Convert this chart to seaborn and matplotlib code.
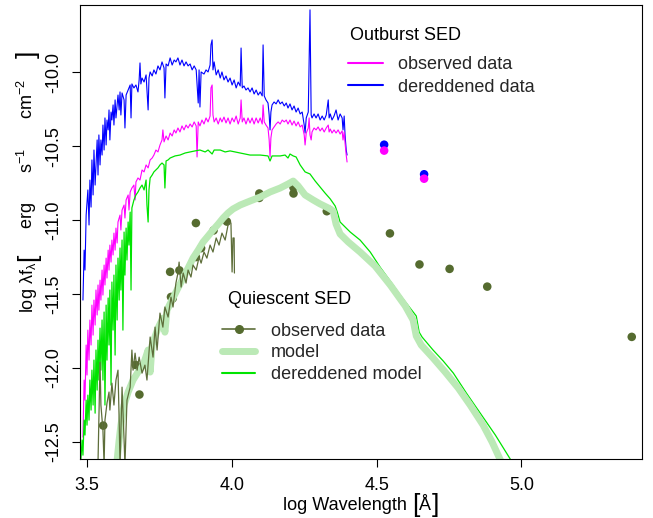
import matplotlib
matplotlib.use("Agg")
import matplotlib.pyplot as plt
from matplotlib.lines import Line2D
import numpy as np
import pandas as pd
import seaborn as sns

# ---------------- data (log wavelength [A], log lambda f_lambda) ----------------
# Outburst: dereddened spectrum
blue_x = [3.486,3.490,3.493,3.497,3.503,3.507,3.510,3.514,3.517,3.521,
          3.524,3.528,3.531,3.535,3.538,3.541,3.545,3.548,3.552,3.555,
          3.559,3.562,3.566,3.569,3.573,3.576,3.579,3.583,3.586,3.590,
          3.593,3.597,3.600,3.607,3.611,3.614,3.617,3.621,3.628,3.631,
          3.635,3.642,3.649,3.652,3.655,3.662,3.669,3.676,3.680,3.683,
          3.686,3.690,3.697,3.704,3.711,3.714,3.718,3.725,3.731,3.738,
          3.745,3.752,3.759,3.766,3.769,3.773,3.780,3.787,3.794,3.801,
          3.807,3.814,3.821,3.828,3.835,3.842,3.849,3.856,3.863,3.870,
          3.877,3.884,3.887,3.890,3.894,3.904,3.911,3.918,3.925,3.928,
          3.932,3.935,3.939,3.946,3.953,3.960,3.966,3.973,3.980,3.987,
          3.994,4.001,4.008,4.015,4.022,4.029,4.032,4.036,4.042,4.049,
          4.056,4.063,4.070,4.077,4.084,4.091,4.098,4.105,4.108,4.112,
          4.118,4.125,4.129,4.132,4.135,4.139,4.146,4.153,4.160,4.167,
          4.174,4.181,4.188,4.194,4.201,4.208,4.215,4.222,4.229,4.236,
          4.243,4.250,4.253,4.257,4.264,4.267,4.270,4.274,4.277,4.284,
          4.291,4.298,4.305,4.312,4.319,4.326,4.333,4.336,4.340,4.346,
          4.353,4.360,4.367,4.374,4.381,4.384,4.388,4.391,4.395,4.398]
blue_y = [-11.541,-11.203,-11.338,-10.966,-10.796,-11.033,-10.729,-10.912,-10.593,-10.830,
          -10.526,-10.763,-10.627,-10.458,-10.695,-10.424,-10.627,-10.458,-10.560,-10.357,
          -10.526,-10.309,-10.492,-10.323,-10.390,-10.255,-10.458,-10.269,-10.323,-10.221,
          -10.357,-10.187,-10.309,-10.154,-10.255,-10.133,-10.289,-10.140,-10.187,-10.377,
          -10.154,-10.120,-10.086,-10.309,-10.079,-10.106,-10.086,-10.133,-10.052,-9.937,
          -10.079,-10.039,-10.066,-10.018,-10.255,-10.039,-9.998,-10.025,-9.984,-10.012,
          -9.957,-9.984,-9.930,-9.971,-10.174,-9.944,-9.957,-9.903,-9.951,-9.917,
          -9.930,-9.903,-9.951,-9.917,-9.957,-9.930,-9.957,-9.944,-9.984,-9.957,
          -9.984,-10.208,-9.984,-10.235,-9.998,-10.012,-9.984,-9.998,-9.951,-9.815,
          -9.781,-9.984,-9.930,-10.018,-9.984,-10.039,-9.998,-10.052,-10.025,-10.066,
          -10.039,-10.086,-10.052,-10.106,-10.066,-10.093,-9.836,-10.106,-10.093,-10.120,
          -10.106,-10.133,-10.106,-10.147,-10.120,-10.154,-10.133,-10.160,-9.815,-10.160,
          -10.187,-10.208,-10.289,-10.390,-10.269,-10.221,-10.201,-10.214,-10.187,-10.214,
          -10.201,-10.228,-10.208,-10.242,-10.214,-10.255,-10.228,-10.269,-10.242,-10.282,
          -10.269,-10.357,-10.411,-10.309,-10.269,-9.917,-9.578,-10.289,-10.309,-10.282,
          -10.309,-10.282,-10.323,-10.296,-10.323,-10.289,-10.187,-10.309,-10.282,-10.323,
          -10.296,-10.255,-10.323,-10.282,-10.309,-10.390,-10.296,-10.424,-10.526,-10.560]

# Outburst: observed spectrum
mag_x = [3.486,3.490,3.493,3.497,3.500,3.503,3.507,3.510,3.514,3.517,
         3.521,3.524,3.528,3.531,3.535,3.538,3.541,3.545,3.548,3.552,
         3.555,3.559,3.562,3.566,3.569,3.573,3.576,3.579,3.583,3.586,
         3.590,3.593,3.597,3.600,3.604,3.607,3.614,3.617,3.621,3.628,
         3.631,3.635,3.642,3.645,3.649,3.655,3.662,3.666,3.669,3.676,
         3.683,3.690,3.697,3.704,3.711,3.718,3.725,3.731,3.738,3.745,
         3.752,3.759,3.762,3.766,3.773,3.780,3.787,3.794,3.801,3.807,
         3.814,3.821,3.828,3.835,3.842,3.849,3.856,3.863,3.870,3.877,
         3.880,3.884,3.890,3.897,3.904,3.911,3.918,3.925,3.928,3.932,
         3.935,3.939,3.946,3.953,3.960,3.966,3.973,3.980,3.987,3.994,
         4.001,4.008,4.015,4.022,4.029,4.032,4.036,4.042,4.049,4.056,
         4.063,4.070,4.077,4.084,4.091,4.098,4.105,4.108,4.112,4.118,
         4.125,4.129,4.132,4.135,4.139,4.146,4.153,4.160,4.167,4.174,
         4.181,4.188,4.194,4.201,4.208,4.215,4.222,4.229,4.236,4.243,
         4.250,4.253,4.257,4.264,4.267,4.270,4.274,4.277,4.284,4.291,
         4.298,4.305,4.312,4.319,4.326,4.333,4.336,4.340,4.346,4.353,
         4.360,4.367,4.374,4.381,4.384,4.388,4.391,4.395,4.398]
mag_y = [-12.468,-12.082,-12.218,-11.845,-12.048,-11.744,-11.947,-11.676,-11.845,-11.575,
         -11.778,-11.541,-11.710,-11.473,-11.642,-11.439,-11.609,-11.406,-11.541,-11.338,
         -11.507,-11.304,-11.439,-11.257,-11.392,-11.203,-11.338,-11.169,-11.284,-11.135,
         -11.236,-11.088,-11.203,-11.054,-11.155,-11.013,-10.966,-11.067,-10.932,-10.898,
         -10.986,-10.864,-10.830,-10.932,-10.810,-10.783,-10.763,-10.864,-10.742,-10.715,
         -10.729,-10.661,-10.674,-10.627,-10.647,-10.593,-10.580,-10.560,-10.526,-10.539,
         -10.492,-10.458,-10.390,-10.471,-10.431,-10.458,-10.411,-10.431,-10.390,-10.411,
         -10.377,-10.404,-10.363,-10.390,-10.357,-10.377,-10.350,-10.370,-10.336,-10.363,
         -10.573,-10.336,-10.363,-10.323,-10.350,-10.309,-10.336,-10.296,-10.106,-10.086,
         -10.289,-10.336,-10.309,-10.350,-10.309,-10.336,-10.303,-10.343,-10.309,-10.350,
         -10.309,-10.336,-10.296,-10.350,-10.309,-10.187,-10.336,-10.309,-10.350,-10.309,
         -10.343,-10.309,-10.350,-10.309,-10.343,-10.309,-10.350,-10.221,-10.336,-10.357,
         -10.377,-10.458,-10.573,-10.444,-10.390,-10.370,-10.350,-10.336,-10.350,-10.323,
         -10.336,-10.323,-10.350,-10.323,-10.357,-10.330,-10.363,-10.336,-10.370,-10.357,
         -10.424,-10.492,-10.411,-10.377,-10.309,-10.424,-10.458,-10.404,-10.377,-10.390,
         -10.370,-10.397,-10.377,-10.404,-10.377,-10.357,-10.404,-10.384,-10.411,-10.390,
         -10.411,-10.390,-10.418,-10.397,-10.458,-10.404,-10.478,-10.560,-10.607]

# Outburst photometry
ob_phot_x = [4.526, 4.664]
ob_phot_obs_y = [-10.53, -10.72]
ob_phot_der_y = [-10.49, -10.69]

# Quiescent: dereddened model
dmod_x = [3.479,3.483,3.486,3.490,3.493,3.497,3.500,3.503,3.507,3.510,
          3.514,3.517,3.521,3.524,3.528,3.531,3.535,3.538,3.541,3.545,
          3.548,3.552,3.555,3.559,3.562,3.566,3.569,3.573,3.576,3.579,
          3.583,3.586,3.590,3.593,3.597,3.600,3.604,3.607,3.611,3.614,
          3.617,3.621,3.624,3.628,3.631,3.635,3.638,3.642,3.645,3.649,
          3.652,3.655,3.662,3.669,3.676,3.683,3.690,3.697,3.704,3.707,
          3.711,3.714,3.718,3.725,3.731,3.738,3.745,3.752,3.759,3.766,
          3.769,3.773,3.780,3.787,3.804,3.821,3.839,3.856,3.873,3.890,
          3.908,3.918,3.932,3.939,3.960,3.977,3.994,4.011,4.029,4.046,
          4.063,4.098,4.125,4.132,4.139,4.167,4.184,4.194,4.201,4.212,
          4.222,4.236,4.253,4.270,4.288,4.305,4.322,4.340,4.357,4.364,
          4.374,4.384,4.395,4.409,4.443,4.478,4.512,4.547,4.581,4.616,
          4.637,4.647,4.657,4.695,4.730,4.765,4.810,4.858,4.910,4.968]
dmod_y = [-12.617,-12.488,-12.590,-12.353,-12.454,-12.218,-12.387,-12.184,-12.353,-12.082,
          -12.285,-12.015,-12.251,-11.947,-12.306,-11.879,-12.150,-11.812,-12.082,-11.731,
          -12.015,-11.676,-12.082,-11.622,-12.251,-11.575,-11.947,-11.527,-11.845,-11.473,
          -12.116,-11.419,-11.744,-11.372,-11.913,-11.304,-11.676,-11.257,-11.541,-11.189,
          -11.473,-11.135,-11.744,-11.081,-11.372,-11.054,-11.270,-11.013,-11.169,-10.946,
          -11.473,-10.918,-10.864,-10.830,-10.810,-10.783,-10.763,-10.796,-10.729,-10.898,
          -11.013,-10.796,-10.715,-10.695,-10.674,-10.661,-10.647,-10.627,-10.614,-10.627,
          -10.783,-10.600,-10.593,-10.580,-10.566,-10.560,-10.546,-10.539,-10.532,-10.526,
          -10.539,-10.526,-10.553,-10.526,-10.526,-10.539,-10.532,-10.539,-10.546,-10.553,
          -10.560,-10.560,-10.566,-10.600,-10.566,-10.566,-10.560,-10.580,-10.553,-10.566,
          -10.573,-10.627,-10.674,-10.688,-10.736,-10.776,-10.817,-10.857,-10.905,-10.945,
          -11.013,-11.033,-11.054,-11.081,-11.135,-11.216,-11.318,-11.412,-11.507,-11.595,
          -11.649,-11.758,-11.791,-11.879,-11.953,-12.035,-12.170,-12.306,-12.454,-12.637]

# Quiescent: model
model_x = [3.604,3.611,3.617,3.628,3.642,3.659,3.676,3.694,3.711,3.718,
           3.725,3.745,3.762,3.769,3.776,3.797,3.814,3.832,3.849,3.866,
           3.884,3.901,3.918,3.935,3.953,3.970,3.987,4.004,4.029,4.063,
           4.098,4.132,4.167,4.194,4.212,4.229,4.253,4.281,4.305,4.333,
           4.350,4.360,4.374,4.402,4.443,4.495,4.547,4.599,4.626,4.637,
           4.654,4.695,4.737,4.782,4.823,4.868,4.899,4.934]
model_y = [-12.624,-12.488,-12.387,-12.251,-12.163,-12.082,-12.028,-11.981,-11.879,-12.028,
           -11.845,-11.731,-11.663,-11.758,-11.609,-11.527,-11.460,-11.392,-11.325,-11.257,
           -11.203,-11.148,-11.108,-11.067,-11.027,-10.986,-10.952,-10.925,-10.898,-10.871,
           -10.844,-10.810,-10.783,-10.756,-10.736,-10.769,-10.830,-10.864,-10.891,-10.918,
           -10.939,-11.027,-11.094,-11.148,-11.216,-11.311,-11.439,-11.581,-11.676,-11.784,
           -11.845,-11.933,-12.028,-12.136,-12.251,-12.387,-12.502,-12.651]

# Quiescent: observed optical spectrum
qspec_x = [3.538,3.545,3.548,3.555,3.559,3.562,3.569,3.576,3.579,3.586,
           3.593,3.600,3.607,3.611,3.614,3.621,3.628,3.631,3.638,3.649,
           3.655,3.659,3.666,3.673,3.680,3.690,3.700,3.707,3.718,3.728,
           3.735,3.742,3.752,3.762,3.769,3.780,3.790,3.797,3.807,3.814,
           3.818,3.825,3.832,3.842,3.849,3.859,3.866,3.877,3.887,3.894,
           3.904,3.914,3.925,3.935,3.946,3.956,3.966,3.977,3.987,3.994,
           3.997,4.001,4.004,4.008,4.009]
qspec_y = [-12.637,-11.961,-12.251,-12.421,-12.657,-12.353,-12.238,-12.163,-12.285,-12.103,
           -12.251,-12.082,-12.015,-12.353,-12.657,-12.130,-12.488,-12.657,-12.218,-12.130,
           -11.879,-12.015,-11.900,-12.015,-11.927,-12.035,-11.981,-12.082,-11.791,-11.927,
           -11.724,-11.879,-11.629,-11.724,-11.588,-11.656,-11.521,-11.588,-11.426,-11.358,
           -11.284,-11.453,-11.358,-11.426,-11.338,-11.385,-11.304,-11.338,-11.250,-11.291,
           -11.216,-11.257,-11.169,-11.216,-11.121,-11.169,-11.088,-11.135,-11.033,-11.013,
           -11.020,-11.351,-11.121,-11.121,-11.358]

# Quiescent photometry
qphot_x = [3.556,3.668,3.681,3.787,3.819,3.790,3.796,3.876,3.894,3.876,
           3.937,3.983,4.095,4.095,4.213,4.213,4.328,4.336,4.546,4.648,
           4.752,4.882,5.381]
qphot_y = [-12.39,-11.98,-12.18,-11.35,-11.34,-11.52,-11.53,-11.25,-11.19,-11.02,
           -11.07,-11.01,-10.82,-10.85,-10.78,-10.82,-10.94,-10.93,-11.09,-11.30,
           -11.33,-11.45,-11.79]

xticks = [3.5, 4.0, 4.5, 5.0]
xtick_labels = ["3.5", "4.0", "4.5", "5.0"]
yticks = [-10.0, -10.5, -11.0, -11.5, -12.0, -12.5]
ytick_labels = ["-10.0", "-10.5", "-11.0", "-11.5", "-12.0", "-12.5"]

# ---------------- style ----------------
sns.set_theme(style="white")
plt.rcParams['font.family'] = ['Liberation Sans', 'DejaVu Sans']
plt.rcParams['mathtext.fontset'] = 'custom'
plt.rcParams['mathtext.rm'] = 'Liberation Sans'
plt.rcParams['mathtext.it'] = 'Liberation Sans:italic'
plt.rcParams['mathtext.default'] = 'regular'
plt.rcParams['axes.unicode_minus'] = False

FS = 13
C_BLUE = "#0000ff"
C_MAG = "#ff00ff"
C_GREEN = "#00e400"
C_MODEL = "#bbe9b6"
C_OLIVE = "#556b2f"
C_OLIVE_LINE = "#5e6e3a"

W, H = 653, 518
fig = plt.figure(figsize=(W/100, H/100), dpi=100)
ax = fig.add_axes([80/W, 1-459/H, 562/W, 454.3/H])

def line(x, y, color, lw):
    df = pd.DataFrame({"x": x, "y": y})
    sns.lineplot(data=df, x="x", y="y", sort=False, estimator=None,
                 color=color, lw=lw, ax=ax, legend=False)

line(blue_x, blue_y, C_BLUE, 0.8)
line(mag_x, mag_y, C_MAG, 0.8)
line(dmod_x, dmod_y, C_GREEN, 0.9)
line(model_x, model_y, C_MODEL, 5.0)
line(qspec_x, qspec_y, C_OLIVE_LINE, 0.9)

sns.scatterplot(x=ob_phot_x, y=ob_phot_der_y, color=C_BLUE, s=38, edgecolor="none", ax=ax, legend=False)
sns.scatterplot(x=ob_phot_x, y=ob_phot_obs_y, color=C_MAG, s=38, edgecolor="none", ax=ax, legend=False)
sns.scatterplot(x=qphot_x, y=qphot_y, color=C_OLIVE, s=38, edgecolor="none", ax=ax, legend=False)

ax.set_xlim(3.4758, 5.4164)
ax.set_ylim(-12.616, -9.543)
ax.set_xticks(xticks)
ax.set_xticklabels(xtick_labels)
ax.set_yticks(yticks)
ax.set_yticklabels(ytick_labels)
ax.tick_params(axis="both", which="major", direction="out", length=6, width=0.8,
               color="black", labelsize=FS, pad=7, bottom=True, left=True,
               labelcolor="black")
for lbl in ax.get_yticklabels():
    lbl.set_rotation(90)
    lbl.set_va("center")
for sp in ax.spines.values():
    sp.set_color("black")
    sp.set_linewidth(0.8)
ax.set_xlabel("")
ax.set_ylabel("")

# ---------------- axis titles with large brackets ----------------
renderer = fig.canvas.get_renderer()

def compose(pieces, start, base, vertical):
    pos = start
    for s, fs, shift in pieces:
        if vertical:
            t = fig.text((base + shift)/W, 1 - pos/H, s, fontsize=fs, rotation=90,
                         rotation_mode="anchor", ha="left", va="baseline", color="black")
            pos -= t.get_window_extent(renderer).height
        else:
            t = fig.text(pos/W, 1 - (base + shift)/H, s, fontsize=fs, rotation=0,
                         ha="left", va="baseline", color="black")
            pos += t.get_window_extent(renderer).width

compose([("log Wavelength ", FS, 0), ("[", 19, 2), ("Å", FS, 0), ("]", 19, 2)],
        start=283, base=510, vertical=False)
compose([(r"log $\lambda\mathrm{f}_{\lambda}$ ", FS, 0), ("[", 19, 2),
         ("     erg      s$^{-1}$      cm$^{-2}$     ", FS, 0), ("]", 19, 2)],
        start=313, base=33, vertical=True)

# ---------------- legends ----------------
ax.text((350-80)/562, 1-(36-4.7)/454.3, "Outburst SED", transform=ax.transAxes,
        fontsize=FS, ha="left", va="center", color="black")
h1 = [Line2D([], [], color=C_MAG, lw=1.5), Line2D([], [], color=C_BLUE, lw=1.5)]
leg1 = ax.legend(h1, ["observed data", "dereddened data"], loc="upper left",
                 bbox_to_anchor=((348-80)/562, 1-(56.5-4.7)/454.3), frameon=False,
                 fontsize=FS, handlelength=1.95, handletextpad=0.8, labelspacing=0.28,
                 borderpad=0, borderaxespad=0)
ax.add_artist(leg1)

ax.text((228-80)/562, 1-(300-4.7)/454.3, "Quiescent SED", transform=ax.transAxes,
        fontsize=FS, ha="left", va="center", color="black")
h2 = [Line2D([], [], color=C_OLIVE_LINE, lw=1.2, marker="o", markersize=5.5,
             markerfacecolor=C_OLIVE, markeredgecolor=C_OLIVE),
      Line2D([], [], color=C_MODEL, lw=5),
      Line2D([], [], color=C_GREEN, lw=1.5)]
leg2 = ax.legend(h2, ["observed data", "model", "dereddened model"], loc="upper left",
                 bbox_to_anchor=((222-80)/562, 1-(322.5-4.7)/454.3), frameon=False,
                 fontsize=FS, handlelength=1.85, handletextpad=0.88, labelspacing=0.26,
                 borderpad=0, borderaxespad=0, numpoints=1)

fig.savefig("out.png", dpi=100)
